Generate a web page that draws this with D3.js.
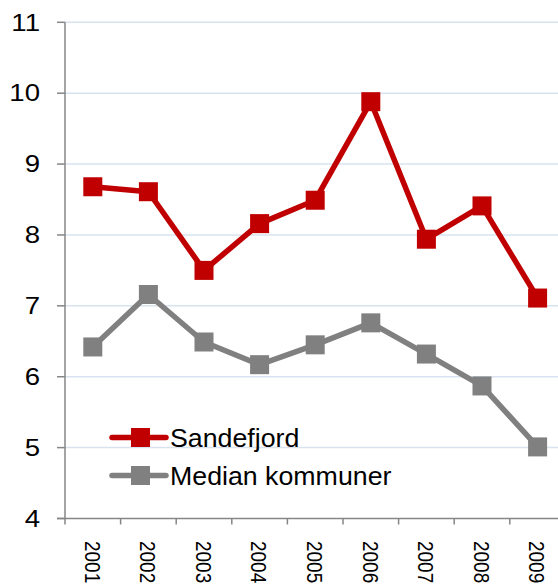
<!DOCTYPE html>
<html>
<head>
<meta charset="utf-8">
<script src="https://cdn.jsdelivr.net/npm/d3@7"></script>
<style>
  body { margin: 0; background: #fff; }
  text { font-family: "Liberation Sans", Arial, sans-serif; fill: #000; }
</style>
</head>
<body>
<div id="chart"></div>
<script>
// data
var years = ["2001", "2002", "2003", "2004", "2005", "2006", "2007", "2008", "2009"];
var sandefjord = [8.68, 8.61, 7.50, 8.16, 8.49, 9.88, 7.94, 8.41, 7.11];
var median = [6.42, 7.16, 6.49, 6.17, 6.45, 6.76, 6.32, 5.87, 5.01];
var yTicks = [4, 5, 6, 7, 8, 9, 10, 11];
var seriesNames = ["Sandefjord", "Median kommuner"];
var seriesColors = ["#c00000", "#808080"];

var width = 558,
    height = 587;

// plot area (window.top is reserved, so no "top" var)
var plotLeft = 65, plotRight = 565.4, plotTop = 22.3, plotBottom = 518.5;

// the source picture has its text a bit stretched sideways
var stretch = 1.2;

var svg = d3.select("#chart").append("svg")
    .attr("width", width)
    .attr("height", height);

var x = d3.scaleBand()
    .domain(years)
    .range([plotLeft, plotRight])
    .padding(0);

var y = d3.scaleLinear()
    .domain([4, 11])
    .range([plotBottom, plotTop]);

// gridlines
svg.selectAll(".grid")
  .data(yTicks.slice(1))
  .enter()
  .append("line")
    .attr("x1", plotLeft)
    .attr("x2", width)
    .attr("y1", function(d){ return y(d) })
    .attr("y2", function(d){ return y(d) })
    .attr("stroke", "#d9e3f0")
    .attr("stroke-width", 1.5);

// y axis
svg.append("line")
    .attr("x1", plotLeft).attr("x2", plotLeft)
    .attr("y1", y(11)).attr("y2", y(4))
    .attr("stroke", "#868686").attr("stroke-width", 1.5);

svg.selectAll(".ytick")
  .data(yTicks)
  .enter()
  .append("line")
    .attr("x1", plotLeft - 8)
    .attr("x2", plotLeft)
    .attr("y1", function(d){ return y(d) })
    .attr("y2", function(d){ return y(d) })
    .attr("stroke", "#868686").attr("stroke-width", 1.5);

svg.selectAll(".ylab")
  .data(yTicks)
  .enter()
  .append("text")
    .attr("transform", function(d){ return "translate(40," + y(d) + ") scale(" + stretch + ",1)" })
    .attr("dy", "0.36em")
    .attr("text-anchor", "end")
    .style("font-size", "23px")
    .text(function(d){ return d });

// x axis
svg.append("line")
    .attr("x1", plotLeft - 8).attr("x2", width)
    .attr("y1", plotBottom).attr("y2", plotBottom)
    .attr("stroke", "#868686").attr("stroke-width", 1.5);

svg.selectAll(".xtick")
  .data(years)
  .enter()
  .append("line")
    .attr("x1", function(d){ return x(d) })
    .attr("x2", function(d){ return x(d) })
    .attr("y1", plotBottom)
    .attr("y2", plotBottom + 6)
    .attr("stroke", "#868686").attr("stroke-width", 1.5);

// rotated labels; after rotate(90) the text's own y runs along screen x
svg.selectAll(".xlab")
  .data(years)
  .enter()
  .append("text")
    .attr("transform", function(d){ return "translate(" + (x(d) + x.bandwidth() / 2) + ",541) rotate(90) scale(1," + stretch + ")" })
    .attr("dy", "0.36em")
    .attr("text-anchor", "start")
    .style("font-size", "19px")
    .text(function(d){ return d });

// lines + markers
var line = d3.line()
    .x(function(d, i){ return x(years[i]) + x.bandwidth() / 2 })
    .y(function(d){ return y(d) });

[median, sandefjord].forEach(function(vals, k) {
  var color = k == 0 ? seriesColors[1] : seriesColors[0];
  svg.append("path")
      .attr("d", line(vals))
      .attr("fill", "none")
      .attr("stroke", color)
      .attr("stroke-width", 5.5)
      .attr("stroke-linejoin", "round");

  var size = 19;
  svg.selectAll(".m" + k)
    .data(vals)
    .enter()
    .append("rect")
      .attr("x", function(d, i){ return x(years[i]) + x.bandwidth() / 2 - size / 2 })
      .attr("y", function(d){ return y(d) - size / 2 })
      .attr("width", size)
      .attr("height", size)
      .attr("fill", color);
});

// legend
var legY = [437.5, 475.5];
seriesNames.forEach(function(name, i) {
  var g = svg.append("g");
  g.append("line")
      .attr("x1", 112).attr("x2", 166)
      .attr("y1", legY[i]).attr("y2", legY[i])
      .attr("stroke", seriesColors[i])
      .attr("stroke-width", 5.5)
      .attr("stroke-linecap", "round");
  g.append("rect")
      .attr("x", 131).attr("y", legY[i] - 9.5)
      .attr("width", 19).attr("height", 19)
      .attr("fill", seriesColors[i]);
  g.append("text")
      .attr("transform", "translate(170," + legY[i] + ") scale(1.07,1)")
      .attr("dy", "0.36em")
      .style("font-size", "25px")
      .text(name);
});
</script>
</body>
</html>
